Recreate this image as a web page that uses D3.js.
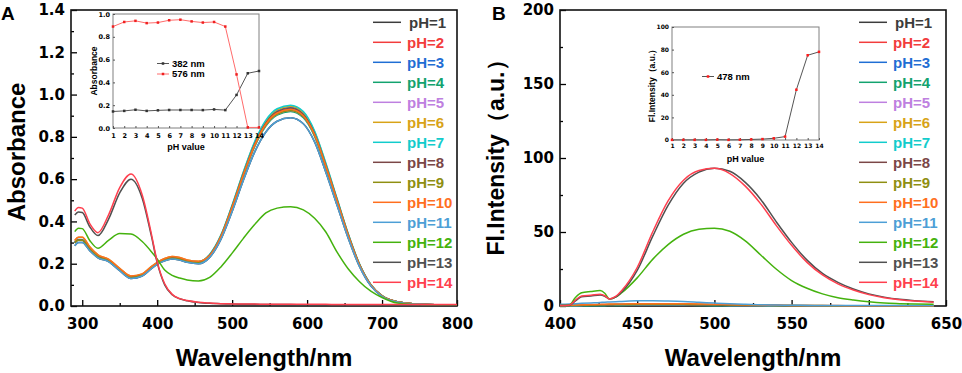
<!DOCTYPE html>
<html>
<head>
<meta charset="utf-8">
<script src="https://cdn.jsdelivr.net/npm/d3@7"></script>
<style>
  body { margin: 0; background: #fff; }
  svg text { font-family: "Liberation Sans", Arial, sans-serif; font-weight: bold; }
  .tick text { font-family: "DejaVu Sans", sans-serif; font-weight: bold; }
</style>
</head>
<body>
<svg id="chart" width="962" height="373"></svg>
<script>
// ---- data ----
const phLabels = ["pH=1","pH=2","pH=3","pH=4","pH=5","pH=6","pH=7","pH=8","pH=9","pH=10","pH=11","pH=12","pH=13","pH=14"];
const phColors = ["#3c3c3c","#f23c3c","#1f6ed4","#13a36f","#be80e0","#d8a318","#12cccc",
                  "#7b4747","#8f8f12","#ff6f1e","#4d9fd6","#44b20e","#505050","#ff3f4e"];

// panel A: absorbance spectra
const wlA = [290,295,300,310,321,335,350,365,380,392,400,410,420,430,440,455,470,485,500,515,
             530,545,560,578,595,610,625,640,655,670,685,700,720,750,800];
const absPH1  = [0.285,0.30,0.30,0.262,0.228,0.21,0.167,0.13,0.142,0.176,0.197,0.214,0.222,0.217,0.207,0.20,
                 0.23,0.315,0.447,0.595,0.728,0.823,0.874,0.89,0.862,0.776,0.633,0.476,0.319,0.186,0.095,0.046,0.019,0.008,0.004];
const absPH2  = [0.30,0.313,0.312,0.27,0.235,0.216,0.173,0.137,0.148,0.182,0.202,0.22,0.228,0.223,0.213,0.207,
                 0.239,0.328,0.468,0.622,0.761,0.861,0.913,0.93,0.90,0.811,0.662,0.498,0.333,0.194,0.10,0.048,0.02,0.008,0.004];
const absPH3  = [0.298,0.312,0.311,0.27,0.234,0.215,0.172,0.136,0.147,0.181,0.201,0.219,0.227,0.222,0.212,0.206,
                 0.241,0.332,0.472,0.628,0.769,0.869,0.923,0.94,0.91,0.819,0.668,0.503,0.337,0.196,0.10,0.048,0.02,0.008,0.004];
const absPH4  = [0.30,0.313,0.312,0.27,0.235,0.216,0.173,0.137,0.148,0.182,0.202,0.22,0.228,0.223,0.213,0.207,
                 0.236,0.325,0.462,0.615,0.753,0.851,0.903,0.92,0.89,0.802,0.654,0.492,0.33,0.192,0.098,0.047,0.02,0.008,0.004];
const absPH5  = [0.301,0.314,0.313,0.271,0.236,0.217,0.174,0.138,0.149,0.183,0.203,0.221,0.229,0.224,0.214,0.208,
                 0.237,0.326,0.465,0.618,0.757,0.856,0.908,0.925,0.895,0.806,0.658,0.495,0.331,0.193,0.099,0.047,0.02,0.008,0.004];
const absPH6  = [0.31,0.325,0.325,0.28,0.242,0.222,0.178,0.142,0.152,0.186,0.206,0.225,0.234,0.229,0.218,0.212,
                 0.243,0.334,0.475,0.632,0.773,0.874,0.928,0.945,0.915,0.824,0.672,0.505,0.339,0.197,0.101,0.049,0.02,0.008,0.004];
const absPH7  = [0.302,0.315,0.314,0.272,0.236,0.217,0.174,0.138,0.149,0.183,0.204,0.222,0.23,0.225,0.215,0.209,
                 0.244,0.335,0.478,0.635,0.777,0.879,0.933,0.95,0.92,0.828,0.676,0.508,0.34,0.198,0.102,0.049,0.02,0.008,0.004];
const absPH8  = [0.30,0.313,0.312,0.27,0.235,0.216,0.173,0.137,0.148,0.182,0.202,0.22,0.228,0.223,0.213,0.207,
                 0.24,0.33,0.47,0.625,0.765,0.865,0.918,0.935,0.905,0.815,0.665,0.50,0.335,0.195,0.10,0.048,0.02,0.008,0.004];
const absPH9  = [0.299,0.312,0.311,0.27,0.234,0.215,0.172,0.136,0.147,0.181,0.201,0.219,0.227,0.222,0.212,0.206,
                 0.237,0.326,0.465,0.618,0.757,0.856,0.908,0.925,0.895,0.806,0.658,0.495,0.331,0.193,0.099,0.047,0.02,0.008,0.004];
const absPH10 = [0.31,0.325,0.325,0.28,0.242,0.222,0.178,0.142,0.152,0.186,0.206,0.225,0.234,0.229,0.218,0.212,
                 0.239,0.328,0.468,0.622,0.761,0.861,0.913,0.93,0.90,0.811,0.662,0.498,0.333,0.194,0.10,0.048,0.02,0.008,0.004];
const absPH11 = [0.285,0.30,0.30,0.262,0.228,0.21,0.167,0.13,0.142,0.176,0.197,0.214,0.222,0.217,0.207,0.20,
                 0.23,0.315,0.447,0.595,0.728,0.823,0.874,0.89,0.862,0.776,0.633,0.476,0.319,0.186,0.095,0.046,0.019,0.008,0.004];
const absPH12 = [0.352,0.368,0.366,0.31,0.273,0.31,0.343,0.34,0.305,0.258,0.222,0.17,0.145,0.132,0.123,0.118,
                 0.135,0.185,0.25,0.32,0.385,0.44,0.463,0.47,0.455,0.415,0.35,0.255,0.175,0.115,0.07,0.04,0.014,0.006,0.003];
const absPH13 = [0.43,0.445,0.442,0.375,0.333,0.41,0.535,0.60,0.51,0.335,0.205,0.10,0.053,0.034,0.025,0.017,
                 0.013,0.011,0.009,0.008,0.008,0.007,0.007,0.007,0.006,0.006,0.006,0.006,0.005,0.005,0.005,0.005,0.005,0.005,0.005];
const absPH14 = [0.449,0.466,0.463,0.39,0.347,0.43,0.56,0.624,0.525,0.345,0.21,0.105,0.055,0.035,0.026,0.018,
                 0.014,0.011,0.01,0.009,0.009,0.008,0.008,0.008,0.008,0.008,0.008,0.007,0.007,0.007,0.007,0.007,0.007,0.007,0.007];

// panel B: fluorescence spectra
const wlB = [400,406,410,414,420,426,429,432,436,440,450,460,470,480,490,500,510,520,530,540,
             550,560,570,580,590,600,610,620,630,642];
const flPH1  = [0.2,0.2,0.3,0.3,0.4,0.5,0.5,0.5,0.6,0.6,0.7,0.7,0.7,0.7,0.6,0.5,0.4,0.4,0.3,0.3,0.2,0.2,0.2,0.2,0.2,0.2,0.2,0.2,0.2,0.2];
const flPH2  = [0.3,0.3,0.4,0.5,0.6,0.7,0.8,0.8,0.9,0.9,1.0,1.0,1.0,0.9,0.8,0.6,0.5,0.4,0.3,0.3,0.2,0.2,0.2,0.2,0.2,0.2,0.2,0.2,0.2,0.2];
const flPH3  = [0.4,0.5,0.6,0.7,0.8,0.9,1.0,1.0,1.1,1.1,1.2,1.2,1.2,1.1,1.0,0.8,0.6,0.5,0.4,0.3,0.3,0.3,0.2,0.2,0.2,0.2,0.2,0.2,0.2,0.2];
const flPH4  = [0.1,0.1,0.2,0.2,0.3,0.3,0.4,0.4,0.4,0.4,0.5,0.5,0.5,0.5,0.4,0.4,0.3,0.3,0.2,0.2,0.2,0.1,0.1,0.1,0.1,0.1,0.1,0.1,0.1,0.1];
const flPH5  = [0.2,0.3,0.3,0.4,0.5,0.5,0.6,0.6,0.7,0.7,0.7,0.8,0.8,0.7,0.6,0.5,0.4,0.3,0.3,0.2,0.2,0.2,0.2,0.2,0.2,0.2,0.2,0.2,0.2,0.2];
const flPH6  = [0.2,0.3,0.4,0.5,0.6,0.7,0.8,0.9,0.9,0.9,1.0,1.1,1.1,1.0,0.9,0.7,0.6,0.5,0.4,0.3,0.3,0.2,0.2,0.2,0.2,0.2,0.2,0.2,0.2,0.2];
const flPH7  = [0.1,0.2,0.2,0.3,0.3,0.4,0.4,0.5,0.5,0.5,0.6,0.6,0.6,0.6,0.5,0.4,0.4,0.3,0.3,0.2,0.2,0.2,0.1,0.1,0.1,0.1,0.1,0.1,0.1,0.1];
const flPH8  = [0.2,0.3,0.3,0.4,0.5,0.6,0.7,0.7,0.8,0.8,0.9,0.9,0.9,0.8,0.7,0.6,0.5,0.4,0.3,0.3,0.2,0.2,0.2,0.2,0.2,0.2,0.2,0.2,0.2,0.2];
const flPH9  = [0.3,0.4,0.5,0.6,0.7,0.8,0.9,1.0,1.0,1.0,1.1,1.2,1.2,1.1,1.0,0.9,0.7,0.6,0.5,0.4,0.3,0.3,0.3,0.2,0.2,0.2,0.2,0.2,0.2,0.2];
const flPH10 = [0.4,0.5,0.7,0.8,1.0,1.1,1.2,1.3,1.3,1.4,1.5,1.6,1.6,1.5,1.4,1.2,1.0,0.8,0.6,0.5,0.4,0.3,0.3,0.3,0.2,0.2,0.2,0.2,0.2,0.2];
const flPH11 = [1.2,1.4,1.6,1.8,2.1,2.4,2.6,2.7,2.9,3.1,3.5,3.5,3.3,3.0,2.5,2.0,1.5,1.1,0.8,0.6,0.5,0.4,0.35,0.3,0.3,0.3,0.3,0.3,0.3,0.3];
const flPH12 = [0.3,0.6,5.8,9.0,9.8,10.4,8.6,4.8,6.0,9.0,19,31.5,41.5,48.5,51.8,52.5,50.5,44,34.5,25,17.2,12,8.2,5.6,4.0,2.8,2.0,1.6,1.3,1.1];
const flPH13 = [0.3,0.4,3.5,6.3,6.8,7.4,6.6,4.8,6.0,9.5,24,47,68,83,90.5,93,91,83.5,72,57,43,31,22,16,11.5,8.2,6.0,4.5,3.6,2.9];
const flPH14 = [0.3,0.5,4.0,6.8,7.3,7.9,6.9,4.8,6.5,10.5,26,50,71,85,91.5,93,89.5,81,69,54.5,41,29.5,21,15,10.8,7.7,5.6,4.2,3.3,2.6];

// insets
const insetPH = [1,2,3,4,5,6,7,8,9,10,11,12,13,14];
const abs382 = [0.145,0.15,0.16,0.15,0.155,0.158,0.158,0.158,0.157,0.163,0.157,0.29,0.48,0.50];
const abs576 = [0.89,0.93,0.94,0.92,0.925,0.945,0.95,0.935,0.925,0.93,0.89,0.47,0.005,0.005];
const fl478  = [0.1,0.1,0.1,0.1,0.3,0.1,0.2,0.5,0.8,1.5,3.0,44.5,75,78];

const absSeries = [absPH1,absPH2,absPH3,absPH4,absPH5,absPH6,absPH7,absPH8,absPH9,absPH10,absPH11,absPH12,absPH13,absPH14];
const flSeries  = [flPH1,flPH2,flPH3,flPH4,flPH5,flPH6,flPH7,flPH8,flPH9,flPH10,flPH11,flPH12,flPH13,flPH14];

// ---- drawing ----
const svg = d3.select('#chart');

const drawPanel = cfg => {
  const { x0, x1, y0, y1 } = cfg.box;
  const g = svg.append('g');
  const x = d3.scaleLinear().domain(cfg.xDomain).range([x0, x1]);
  const y = d3.scaleLinear().domain(cfg.yDomain).range([y1, y0]);

  // minor ticks
  g.append('g').attr('transform', `translate(0,${y1})`)
    .call(d3.axisBottom(x).tickValues(cfg.xMinor).tickSize(-3).tickFormat(''))
    .call(a => a.select('.domain').remove());
  g.append('g').attr('transform', `translate(${x0},0)`)
    .call(d3.axisLeft(y).tickValues(cfg.yMinor).tickSize(-3).tickFormat(''))
    .call(a => a.select('.domain').remove());

  // major ticks
  const xAxis = g.append('g').attr('transform', `translate(0,${y1})`)
    .call(d3.axisBottom(x).tickValues(cfg.xTicks).tickSize(-6).tickPadding(6));
  xAxis.selectAll('text').attr('y', 23).attr('dy', 0).attr('font-size', 15);
  const yAxis = g.append('g').attr('transform', `translate(${x0},0)`)
    .call(d3.axisLeft(y).tickValues(cfg.yTicks).tickSize(-6).tickPadding(6).tickFormat(cfg.yFormat));
  yAxis.selectAll('text').attr('font-size', 15);
  g.selectAll('.domain').remove();
  g.selectAll('.tick line').attr('stroke', '#000').attr('stroke-width', 1.3);

  // frame
  g.append('rect')
    .attr('x', x0).attr('y', y0)
    .attr('width', x1 - x0).attr('height', y1 - y0)
    .attr('fill', 'none').attr('stroke', '#111').attr('stroke-width', 1.6);

  // spectra
  const line = d3.line()
    .x((d, i) => x(cfg.wl[i]))
    .y(d => y(d))
    .curve(d3.curveMonotoneX);
  g.append('g').selectAll('path')
    .data(cfg.series)
    .join('path')
    .attr('d', line)
    .attr('fill', 'none')
    .attr('stroke', (d, i) => phColors[i])
    .attr('stroke-width', 1.5);

  // legend
  const leg = g.append('g').selectAll('g')
    .data(phLabels)
    .join('g')
    .attr('transform', (d, i) => `translate(${cfg.legendX},${22.3 + i * 20})`);
  leg.append('line')
    .attr('x1', 0).attr('x2', 28)
    .attr('stroke', (d, i) => phColors[i]).attr('stroke-width', 1.5);
  leg.append('text')
    .attr('x', (d, i) => i === 0 ? 36 : 34)
    .attr('y', 5.3)
    .attr('font-size', 15)
    .attr('fill', (d, i) => phColors[i])
    .text(d => d);

  // titles
  g.append('text')
    .attr('x', (x0 + x1) / 2).attr('y', 366)
    .attr('text-anchor', 'middle')
    .attr('font-size', 24)
    .text('Wavelength/nm');
  g.append('text')
    .attr('transform', `translate(${cfg.yTitleX},${cfg.yTitleY}) rotate(-90)`)
    .attr('text-anchor', 'middle')
    .attr('font-size', cfg.yTitleSize)
    .text(cfg.yTitle);
  g.append('text')
    .attr('x', cfg.letterX).attr('y', 20)
    .attr('font-size', 19)
    .text(cfg.letter);
};

const drawInset = cfg => {
  const { x0, x1, y0, y1 } = cfg.box;
  const g = svg.append('g');
  const x = d3.scaleLinear().domain([1, 14]).range([x0, x1]);
  const y = d3.scaleLinear().domain(cfg.yDomain).range([y1, y0]);

  g.append('rect')
    .attr('x', x0).attr('y', y0)
    .attr('width', x1 - x0).attr('height', y1 - y0)
    .attr('fill', '#fff').attr('stroke', '#808080').attr('stroke-width', 1);

  const xAxis = g.append('g').attr('transform', `translate(0,${y1})`)
    .call(d3.axisBottom(x).tickValues(insetPH).tickSize(-2).tickFormat(d3.format('d')));
  xAxis.selectAll('text').attr('y', cfg.xLabelY).attr('dy', 0).attr('font-size', cfg.tickSize);
  const yAxis = g.append('g').attr('transform', `translate(${x0},0)`)
    .call(d3.axisLeft(y).tickValues(cfg.yTicks).tickSize(-2).tickPadding(3).tickFormat(cfg.yFormat));
  yAxis.selectAll('text').attr('font-size', cfg.tickSize);
  g.selectAll('.domain').remove();
  g.selectAll('.tick line').attr('stroke', '#555');

  cfg.lines.forEach(s => {
    g.append('path')
      .datum(s.values)
      .attr('d', d3.line().x((d, i) => x(insetPH[i])).y(d => y(d)))
      .attr('fill', 'none').attr('stroke', s.line).attr('stroke-width', 1);
    g.append('g').selectAll('rect')
      .data(s.values)
      .join('rect')
      .attr('x', (d, i) => x(insetPH[i]) - 1.25)
      .attr('y', d => y(d) - 1.25)
      .attr('width', 2.5).attr('height', 2.5)
      .attr('fill', s.marker);
    // legend entry
    g.append('line')
      .attr('x1', s.legX).attr('x2', s.legX + 12)
      .attr('y1', s.legY).attr('y2', s.legY)
      .attr('stroke', s.line).attr('stroke-width', 1);
    g.append('rect')
      .attr('x', s.legX + 4.75).attr('y', s.legY - 1.25)
      .attr('width', 2.5).attr('height', 2.5).attr('fill', s.marker);
    g.append('text')
      .attr('x', s.legX + 15).attr('y', s.legY + 3.4)
      .attr('font-size', 9.5)
      .text(s.label);
  });

  g.append('text')
    .attr('x', (x0 + x1) / 2).attr('y', cfg.xTitleY)
    .attr('text-anchor', 'middle').attr('font-size', 9)
    .text('pH value');
  g.append('text')
    .attr('transform', `translate(${cfg.yTitleX},${(y0 + y1) / 2}) rotate(-90)`)
    .attr('text-anchor', 'middle').attr('font-size', 8.5)
    .text(cfg.yTitle);
};

drawPanel({
  box: { x0: 71, x1: 457, y0: 10, y1: 306 },
  xDomain: [285, 800], yDomain: [0, 1.4],
  xTicks: [300, 400, 500, 600, 700, 800], xMinor: [350, 450, 550, 650, 750],
  yTicks: [0, 0.2, 0.4, 0.6, 0.8, 1.0, 1.2, 1.4], yMinor: [0.1, 0.3, 0.5, 0.7, 0.9, 1.1, 1.3],
  yFormat: d3.format('.1f'),
  wl: wlA, series: absSeries,
  legendX: 373,
  yTitle: 'Absorbance', yTitleX: 25, yTitleY: 152, yTitleSize: 24,
  letter: 'A', letterX: 1
});

drawPanel({
  box: { x0: 560, x1: 946, y0: 10, y1: 306 },
  xDomain: [400, 650], yDomain: [0, 200],
  xTicks: [400, 450, 500, 550, 600, 650], xMinor: [425, 475, 525, 575, 625],
  yTicks: [0, 50, 100, 150, 200], yMinor: [25, 75, 125, 175],
  yFormat: d3.format('d'),
  wl: wlB, series: flSeries,
  legendX: 859,
  yTitle: 'Fl.Intensity（a.u.）', yTitleX: 504, yTitleY: 152, yTitleSize: 23,
  letter: 'B', letterX: 492
});

drawInset({
  box: { x0: 113, x1: 259, y0: 14, y1: 128 },
  yDomain: [0, 1], yTicks: [0, 0.2, 0.4, 0.6, 0.8, 1.0], yFormat: d3.format('.1f'),
  tickSize: 6.5, xLabelY: 9.5, xTitleY: 150,
  yTitle: 'Absorbance', yTitleX: 97,
  lines: [
    { values: abs382, line: '#555', marker: '#333', label: '382 nm', legX: 157, legY: 63.5 },
    { values: abs576, line: '#ff6b6b', marker: '#f02020', label: '576 nm', legX: 157, legY: 74 }
  ]
});

drawInset({
  box: { x0: 672, x1: 819, y0: 27, y1: 140 },
  yDomain: [0, 100], yTicks: [0, 20, 40, 60, 80, 100], yFormat: d3.format('d'),
  tickSize: 6, xLabelY: 7.5, xTitleY: 162,
  yTitle: 'Fl.Intensity（a.u.）', yTitleX: 655,
  lines: [
    { values: fl478, line: '#555', marker: '#ff1a1a', label: '478 nm', legX: 702, legY: 76.5 }
  ]
});
</script>
</body>
</html>
